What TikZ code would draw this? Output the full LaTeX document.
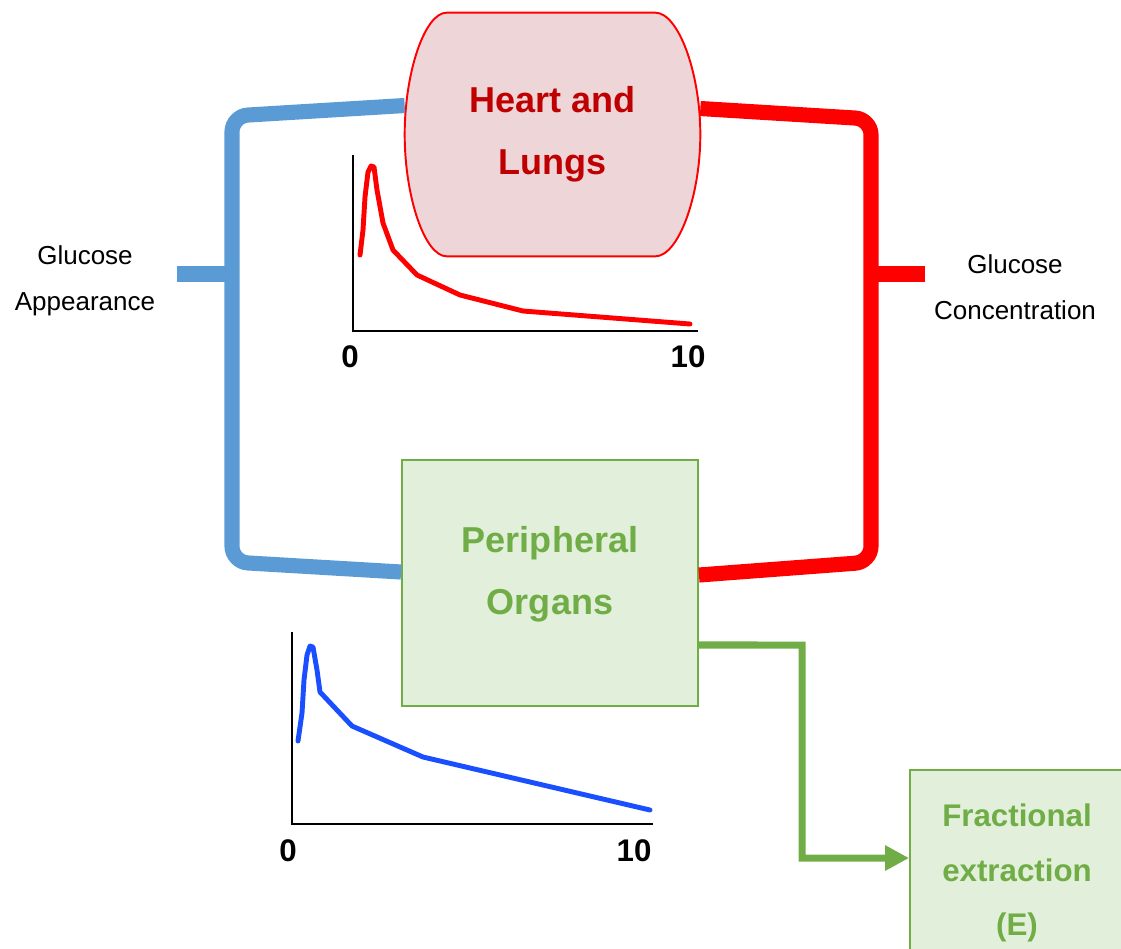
\documentclass[tikz,border=0pt]{standalone}
\usepackage{fontspec}
\setmainfont{Liberation Sans}
\usetikzlibrary{arrows.meta,calc,backgrounds}
\definecolor{pipeblue}{HTML}{5B9BD5}
\definecolor{pipered}{HTML}{FF0000}
\definecolor{heartfill}{HTML}{EDD5D8}
\definecolor{hearttext}{HTML}{C00000}
\definecolor{organline}{HTML}{70AD47}
\definecolor{organfill}{HTML}{E2EFDA}
\definecolor{curveblue}{HTML}{1A4FFF}
\tikzset{
  bpipe/.style={draw=pipeblue,line width=8.6pt,rounded corners=9pt},
  rpipe/.style={draw=pipered,line width=8.6pt,rounded corners=9pt},
  garr/.style={draw=organline,line width=4pt,-{Triangle[length=13.6pt,width=13.6pt]}},
  gbox/.style={draw=organline,fill=organfill,line width=1.1pt,align=center,text=organline,inner sep=0pt},
  gtext/.style={align=center,text=organline,inner sep=0pt},
  hbox/.style={align=center,text=hearttext,inner sep=0pt,font=\bfseries\fontsize{20.5}{35.5}\selectfont},
  hshape/.style={draw=pipered,fill=heartfill,line width=1.1pt},
  axisline/.style={draw=black,line width=1.2pt},
  rcurve/.style={draw=pipered,line width=2.8pt,line cap=round,line join=round},
  bcurve/.style={draw=curveblue,line width=2.8pt,line cap=round,line join=round},
  ticklab/.style={font=\bfseries\fontsize{17.8}{20}\selectfont},
  sidelab/.style={align=center,font=\fontsize{14.8}{26}\selectfont}
}

\begin{document}
\begin{tikzpicture}[x=0.02cm,y=-0.02cm]
  \useasboundingbox (0,0) rectangle (1121,948);
  \clip (0,0) rectangle (1121,948);
  % organs
  \node[hbox,minimum width=5.9cm,minimum height=4.86cm] (hl) at (552.5,134.5) {Heart and\\ Lungs};
  \begin{pgfonlayer}{background}
    \path[hshape] ($(hl.north west)+(42,0)$) -- ($(hl.north east)+(-45,0)$)
      .. controls ($(hl.north east)+(-22,0)$) and ($(hl.east)+(0,-62)$) .. (hl.east)
      .. controls ($(hl.east)+(0,62)$) and ($(hl.south east)+(-22,0)$) .. ($(hl.south east)+(-45,0)$)
      -- ($(hl.south west)+(42,0)$)
      .. controls ($(hl.south west)+(20,0)$) and ($(hl.west)+(0,62)$) .. (hl.west)
      .. controls ($(hl.west)+(0,-62)$) and ($(hl.north west)+(20,0)$) .. cycle;
  \end{pgfonlayer}
  \node[gbox,minimum width=5.92cm,minimum height=4.92cm] (po) at (550,583) {};
  \node[gtext,font=\bfseries\fontsize{20.5}{35.5}\selectfont] (pot) at (550,574) {Peripheral\\ Organs};
  \node[gbox,minimum width=4.28cm,minimum height=4.12cm,font=\bfseries\fontsize{17.8}{31}\selectfont] (fe) at (1017,873) {Fractional\\ extraction\\ (E)};
  \node[sidelab] (ga) at (85,281) {Glucose\\ Appearance};
  \node[sidelab] (gc) at (1015,287) {Glucose\\ Concentration};
  \coordinate (bj) at (232,274);
  \coordinate (bs) at (177,274);
  \coordinate (rj) at (871,274);
  \coordinate (rs) at (925,274);
  % circulation
  \draw[bpipe] ([yshift=0.58cm]hl.west) -- (232,116) -- (232,562) -- ([yshift=0.22cm]po.west);
  \draw[bpipe,rounded corners=0pt] (bs) -- (bj);
  \draw[rpipe] ([yshift=0.52cm]hl.east) -- (871,119) -- (871,562) -- ([yshift=0.16cm]po.east);
  \draw[rpipe,rounded corners=0pt] (rj) -- (rs);
  \draw[garr] ([yshift=-1.24cm]po.east) -- (802,645) -- (802,858) -- ([yshift=0.3cm]fe.west);
  % concentration curves
  \draw[axisline] (353,155) -- (353,331) -- (698,331);
  \draw[rcurve] (360,255) -- (363,230) -- (365,197) -- (368,172) -- (371,166) -- (374,167) -- (377,190)
    -- (383,223) -- (393,250) -- (417,275) -- (460,295) -- (523,311) -- (690,324);
  \node[ticklab] (r0) at (350,357) {0};
  \node[ticklab] (r10) at (688,357) {10};
  \draw[axisline] (292,632) -- (292,824) -- (653,824);
  \draw[bcurve] (298,741) -- (302,713) -- (304,680) -- (307,655) -- (310,646) -- (313,647) -- (317,670)
    -- (320,692) -- (352,726) -- (423,757) -- (650,810);
  \node[ticklab] (b0) at (288,851) {0};
  \node[ticklab] (b10) at (634,851) {10};
\end{tikzpicture}
\end{document}
